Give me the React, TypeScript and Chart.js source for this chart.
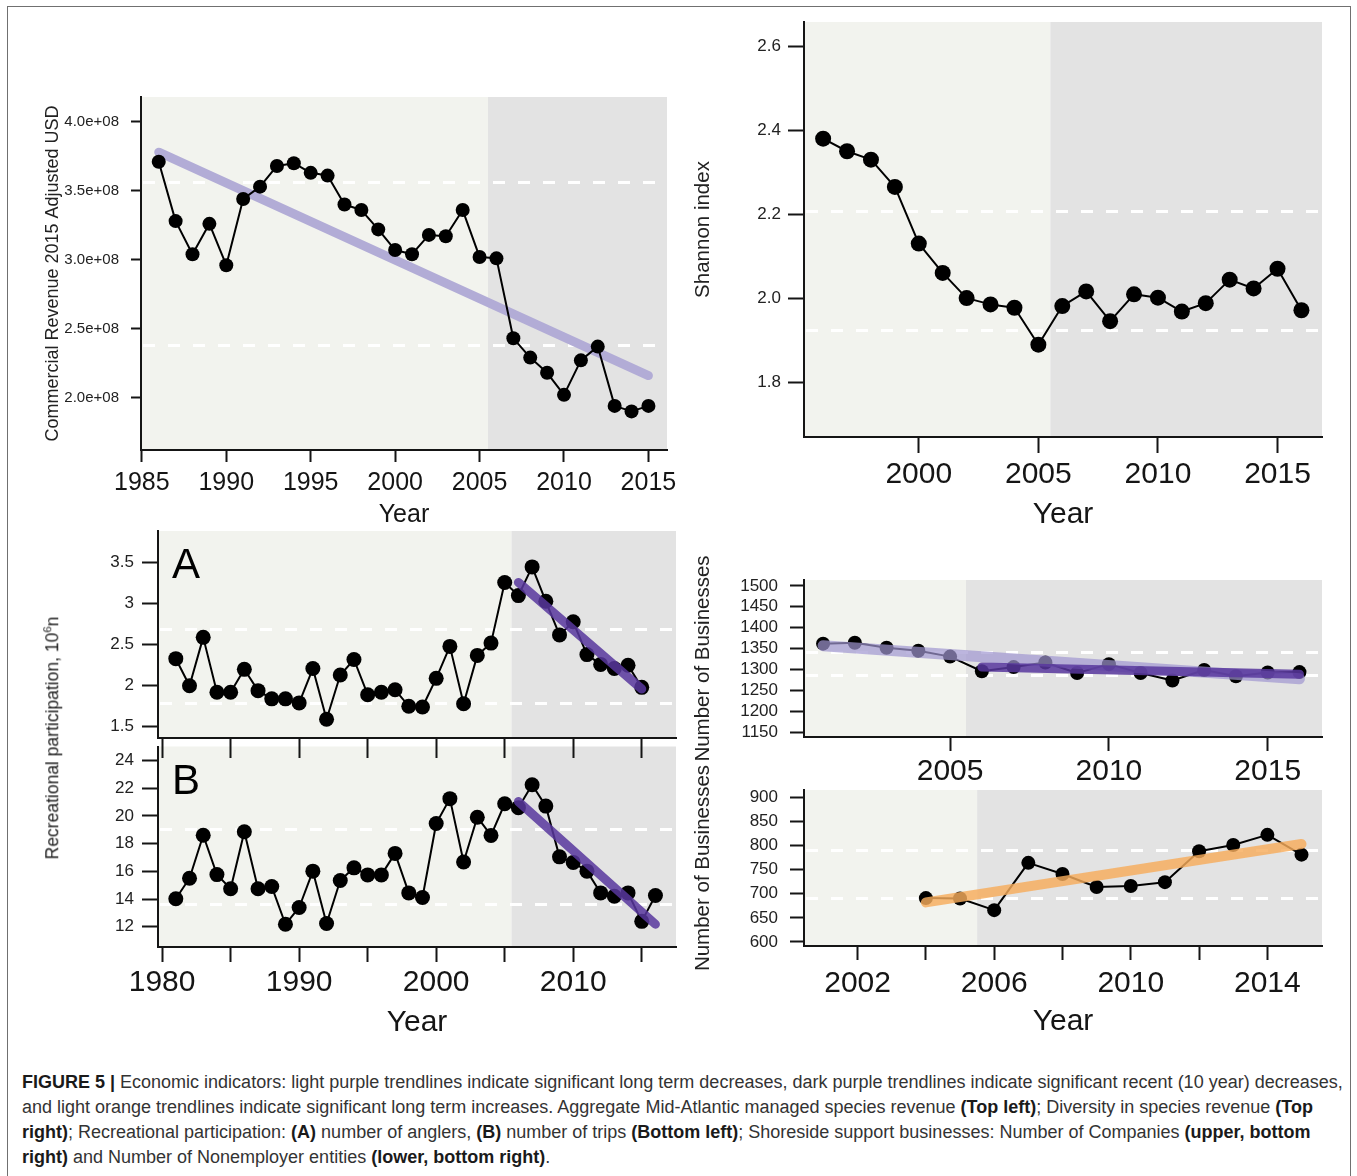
import { useEffect, useRef } from 'react';
import { Chart, registerables } from 'chart.js';

Chart.register(...registerables);

const FONT = '"Liberation Sans", Arial, Helvetica, sans-serif';
const LIGHT_BG = '#f2f3ee';
const DARK_BG = '#e3e3e3';
const INK = '#151515';
const DARK_PURPLE = 'rgba(88, 55, 158, 0.85)';
const LIGHT_ORANGE = 'rgba(246, 172, 92, 0.82)';

const recentPeriodStart = 2005.5;

// ---- Top left: aggregate commercial revenue (2015 adjusted USD) ----
const revenueYears = [1986, 1987, 1988, 1989, 1990, 1991, 1992, 1993, 1994, 1995, 1996, 1997, 1998, 1999, 2000, 2001, 2002, 2003, 2004, 2005, 2006, 2007, 2008, 2009, 2010, 2011, 2012, 2013, 2014, 2015];
const revenueUSD = [3.71e8, 3.28e8, 3.04e8, 3.26e8, 2.96e8, 3.44e8, 3.53e8, 3.68e8, 3.70e8, 3.63e8, 3.61e8, 3.40e8, 3.36e8, 3.22e8, 3.07e8, 3.04e8, 3.18e8, 3.17e8, 3.36e8, 3.02e8, 3.01e8, 2.43e8, 2.29e8, 2.18e8, 2.02e8, 2.27e8, 2.37e8, 1.94e8, 1.90e8, 1.94e8];
const revenueTrendYears = [1986, 2015];
const revenueTrend = [3.78e8, 2.16e8];
const revenueThresholds = [3.56e8, 2.38e8];
const revenueYTicks = [2.0e8, 2.5e8, 3.0e8, 3.5e8, 4.0e8];
const revenueXTicks = [1985, 1990, 1995, 2000, 2005, 2010, 2015];

// ---- Top right: Shannon diversity of species revenue ----
const shannonYears = [1996, 1997, 1998, 1999, 2000, 2001, 2002, 2003, 2004, 2005, 2006, 2007, 2008, 2009, 2010, 2011, 2012, 2013, 2014, 2015, 2016];
const shannonIndex = [2.38, 2.35, 2.33, 2.265, 2.13, 2.06, 2.0, 1.985, 1.977, 1.889, 1.981, 2.016, 1.945, 2.009, 2.001, 1.968, 1.988, 2.044, 2.023, 2.07, 1.971];
const shannonThresholds = [2.208, 1.925];
const shannonYTicks = [1.8, 2.0, 2.2, 2.4, 2.6];
const shannonXTicks = [2000, 2005, 2010, 2015];

// ---- Bottom left A: number of anglers (10^6) ----
const anglerYears = [1981, 1982, 1983, 1984, 1985, 1986, 1987, 1988, 1989, 1990, 1991, 1992, 1993, 1994, 1995, 1996, 1997, 1998, 1999, 2000, 2001, 2002, 2003, 2004, 2005, 2006, 2007, 2008, 2009, 2010, 2011, 2012, 2013, 2014, 2015];
const anglers = [2.33, 2.0, 2.59, 1.92, 1.92, 2.2, 1.94, 1.84, 1.84, 1.79, 2.21, 1.59, 2.13, 2.32, 1.89, 1.92, 1.95, 1.75, 1.74, 2.09, 2.48, 1.78, 2.37, 2.52, 3.26, 3.10, 3.45, 3.03, 2.62, 2.78, 2.38, 2.26, 2.21, 2.25, 1.98];
const anglerTrendYears = [2006, 2015];
const anglerTrend = [3.26, 1.96];
const anglerThresholds = [2.69, 1.79];
const anglerYTicks = [1.5, 2, 2.5, 3, 3.5];

// ---- Bottom left B: number of trips (10^6) ----
const tripYears = [1981, 1982, 1983, 1984, 1985, 1986, 1987, 1988, 1989, 1990, 1991, 1992, 1993, 1994, 1995, 1996, 1997, 1998, 1999, 2000, 2001, 2002, 2003, 2004, 2005, 2006, 2007, 2008, 2009, 2010, 2011, 2012, 2013, 2014, 2015, 2016];
const trips = [14.02, 15.5, 18.6, 15.76, 14.74, 18.85, 14.74, 14.9, 12.18, 13.39, 16.01, 12.23, 15.34, 16.25, 15.74, 15.74, 17.29, 14.44, 14.11, 19.45, 21.24, 16.67, 19.9, 18.59, 20.87, 20.59, 22.24, 20.7, 17.04, 16.64, 16.01, 14.44, 14.2, 14.44, 12.39, 14.25];
const tripTrendYears = [2006, 2016];
const tripTrend = [21.03, 12.18];
const tripThresholds = [19.08, 13.67];
const tripYTicks = [12, 14, 16, 18, 20, 22, 24];
const recXTicks = [1980, 1985, 1990, 1995, 2000, 2005, 2010, 2015];
const recXLabels = [1980, 1990, 2000, 2010];

// ---- Bottom right upper: number of companies ----
const companyYears = [2001, 2002, 2003, 2004, 2005, 2006, 2007, 2008, 2009, 2010, 2011, 2012, 2013, 2014, 2015, 2016];
const companies = [1362, 1364, 1352, 1345, 1331, 1296, 1306, 1317, 1292, 1313, 1292, 1274, 1299, 1284, 1293, 1294];
const companyLongTrendYears = [2001, 2016];
const companyLongTrend = [1357, 1278];
const companyRecentTrendYears = [2006, 2016];
const companyRecentTrend = [1306, 1289];
const companyThresholds = [1342, 1286];
const companyYTicks = [1150, 1200, 1250, 1300, 1350, 1400, 1450, 1500];
const companyXTicks = [2005, 2010, 2015];

// ---- Bottom right lower: number of nonemployer entities ----
const nonemployerYears = [2004, 2005, 2006, 2007, 2008, 2009, 2010, 2011, 2012, 2013, 2014, 2015];
const nonemployers = [691, 690, 666, 764, 741, 714, 716, 724, 788, 801, 822, 781];
const nonemployerTrendYears = [2004, 2015];
const nonemployerTrend = [682, 803];
const nonemployerThresholds = [790.5, 692];
const nonemployerYTicks = [600, 650, 700, 750, 800, 850, 900];
const nonemployerXTicks = [2002, 2004, 2006, 2008, 2010, 2012, 2014];
const nonemployerXLabels = [2002, 2006, 2010, 2014];

const captionLines: [string, boolean][][] = [
  [["FIGURE 5 |", true], [" Economic indicators: light purple trendlines indicate significant long term decreases, dark purple trendlines indicate significant recent (10 year) decreases,", false]],
  [["and light orange trendlines indicate significant long term increases. Aggregate Mid-Atlantic managed species revenue ", false], ["(Top left)", true], ["; Diversity in species revenue ", false], ["(Top", true]],
  [["right)", true], ["; Recreational participation: ", false], ["(A)", true], [" number of anglers, ", false], ["(B)", true], [" number of trips ", false], ["(Bottom left)", true], ["; Shoreside support businesses: Number of Companies ", false], ["(upper, bottom", true]],
  [["right)", true], [" and Number of Nonemployer entities ", false], ["(lower, bottom right)", true], [".", false]],
];

const decorPlugin = {
  id: 'panelDecor',
  beforeDraw(chart: any, _args: any, opts: any) {
    const { ctx, chartArea: a, scales } = chart;
    const xs = Math.max(a.left, Math.min(a.right, scales.x.getPixelForValue(opts.shadeFrom)));
    ctx.save();
    ctx.fillStyle = LIGHT_BG;
    ctx.fillRect(a.left, a.top, xs - a.left, a.bottom - a.top);
    ctx.fillStyle = DARK_BG;
    ctx.fillRect(xs, a.top, a.right - xs, a.bottom - a.top);
    ctx.restore();
  },
  beforeDatasetsDraw(chart: any, _args: any, opts: any) {
    const { ctx, chartArea: a, scales } = chart;
    ctx.save();
    ctx.strokeStyle = '#ffffff';
    ctx.lineWidth = 3;
    ctx.setLineDash([12, 13]);
    (opts.thresholds || []).forEach((t: number) => {
      const y = Math.round(scales.y.getPixelForValue(t)) + 0.5;
      ctx.beginPath();
      ctx.moveTo(a.left + 2, y);
      ctx.lineTo(a.right, y);
      ctx.stroke();
    });
    ctx.setLineDash([]);
    if (opts.label) {
      ctx.fillStyle = '#000';
      ctx.font = `42px ${FONT}`;
      ctx.textBaseline = 'alphabetic';
      ctx.textAlign = 'left';
      ctx.fillText(opts.label, a.left + 14, a.top + 47);
    }
    ctx.restore();
  },
};

type Series = { xs: number[]; ys: number[]; color: string; width: number; radius?: number; order: number };

type PanelProps = {
  plot: [number, number, number, number];
  yW: number; xH: number; padT: number; padR: number;
  xMin: number; xMax: number; yMin: number; yMax: number;
  xTicks: number[]; xLabel: (v: number) => string;
  yTicks: number[]; yLabel: (v: number) => string;
  xTickLen: number; xPad: number; xFont: number; xTitle?: string; xTitleFont?: number;
  yTickLen: number; yPad: number; yFont: number; yTitle?: string; yTitleFont?: number;
  thresholds: number[]; label?: string; series: Series[]; z?: number;
};

function Panel(p: PanelProps) {
  const ref = useRef<HTMLCanvasElement>(null);
  const [L, T, R, B] = p.plot;
  const w = R - L + p.yW + p.padR;
  const h = B - T + p.padT + p.xH;
  useEffect(() => {
    if (!ref.current) return;
    const datasets = p.series.map((s) => ({
      type: 'line' as const,
      data: s.xs.map((x, i) => ({ x, y: s.ys[i] })),
      borderColor: s.color,
      backgroundColor: s.color,
      borderWidth: s.width,
      borderCapStyle: 'round' as const,
      borderJoinStyle: 'round' as const,
      pointRadius: s.radius ?? 0,
      pointHoverRadius: s.radius ?? 0,
      pointBackgroundColor: s.color,
      pointBorderWidth: 0,
      tension: 0,
      order: s.order,
      clip: false as any,
    }));
    const chart = new Chart(ref.current, {
      type: 'line',
      data: { datasets } as any,
      options: {
        responsive: false,
        animation: false,
        devicePixelRatio: 1,
        events: [],
        layout: { padding: { left: 0, top: p.padT, right: p.padR, bottom: 0 } },
        plugins: {
          legend: { display: false },
          tooltip: { enabled: false },
          panelDecor: { shadeFrom: recentPeriodStart, thresholds: p.thresholds, label: p.label },
        } as any,
        scales: {
          x: {
            type: 'linear',
            position: 'bottom',
            min: p.xMin,
            max: p.xMax,
            bounds: 'data',
            afterBuildTicks: (s: any) => { s.ticks = p.xTicks.map((v) => ({ value: v })); },
            afterFit: (s: any) => { s.height = p.xH; s.paddingLeft = 0; s.paddingRight = 0; },
            grid: { display: true, drawOnChartArea: false, drawTicks: true, tickLength: p.xTickLen, tickWidth: 2, tickColor: INK },
            border: { display: true, color: INK, width: 2 },
            ticks: { padding: p.xPad, color: INK, autoSkip: false, maxRotation: 0, minRotation: 0, font: { family: FONT, size: p.xFont }, callback: (v: any) => p.xLabel(Number(v)) },
            title: p.xTitle ? { display: true, text: p.xTitle, color: INK, padding: 0, font: { family: FONT, size: p.xTitleFont } } : { display: false },
          },
          y: {
            type: 'linear',
            position: 'left',
            min: p.yMin,
            max: p.yMax,
            bounds: 'data',
            afterBuildTicks: (s: any) => { s.ticks = p.yTicks.map((v) => ({ value: v })); },
            afterFit: (s: any) => { s.width = p.yW; s.paddingTop = 0; s.paddingBottom = 0; },
            grid: { display: true, drawOnChartArea: false, drawTicks: true, tickLength: p.yTickLen, tickWidth: 2, tickColor: INK },
            border: { display: true, color: INK, width: 2 },
            ticks: { padding: p.yPad, color: '#222', autoSkip: false, font: { family: FONT, size: p.yFont }, callback: (v: any) => p.yLabel(Number(v)) },
            title: p.yTitle ? { display: true, text: p.yTitle, color: '#222', padding: 0, font: { family: FONT, size: p.yTitleFont } } : { display: false },
          },
        } as any,
      },
      plugins: [decorPlugin as any],
    });
    return () => chart.destroy();
  }, []);
  return (
    <canvas
      ref={ref}
      width={w}
      height={h}
      style={{ position: 'absolute', left: L - p.yW, top: T - p.padT, width: w, height: h, zIndex: p.z ?? 1 }}
    />
  );
}

const dataSeries = (xs: number[], ys: number[], radius: number, order: number): Series => ({ xs, ys, color: '#000', width: 2, radius, order });

export default function App() {
  return (
    <div style={{ position: 'absolute', left: 0, top: 0, width: 1357, height: 1176, overflow: 'hidden', background: '#fff', fontFamily: FONT }}>
      <div style={{ position: 'absolute', left: 7, top: 6, width: 1344, height: 1200, border: '1px solid #707070', boxSizing: 'border-box' }} />

      {/* Top left */}
      <Panel
        plot={[141, 97, 667, 450]} yW={99} xH={80} padT={12} padR={30}
        xMin={1984.95} xMax={2016.1} yMin={1.62e8} yMax={4.18e8}
        xTicks={revenueXTicks} xLabel={(v) => String(v)}
        yTicks={revenueYTicks} yLabel={(v) => (v / 1e8).toFixed(1) + 'e+08'}
        xTickLen={12} xPad={6} xFont={25} xTitle="Year" xTitleFont={25}
        yTickLen={10} yPad={12} yFont={15} yTitle="Commercial Revenue 2015 Adjusted USD" yTitleFont={18}
        thresholds={revenueThresholds}
        series={[
          { xs: revenueTrendYears, ys: revenueTrend, color: '#b2acd6', width: 9, order: 2 },
          dataSeries(revenueYears, revenueUSD, 7, 1),
        ]}
      />

      {/* Top right */}
      <Panel
        plot={[804, 22, 1322, 437]} yW={113} xH={96} padT={12} padR={30}
        xMin={1995.2} xMax={2016.86} yMin={1.669} yMax={2.658}
        xTicks={shannonXTicks} xLabel={(v) => String(v)}
        yTicks={shannonYTicks} yLabel={(v) => v.toFixed(1)}
        xTickLen={16} xPad={4} xFont={30} xTitle="Year" xTitleFont={30}
        yTickLen={16} yPad={7} yFont={17} yTitle="Shannon index" yTitleFont={20.5}
        thresholds={shannonThresholds}
        series={[dataSeries(shannonYears, shannonIndex, 8, 1)]}
      />

      {/* Bottom left B */}
      <Panel
        plot={[158, 739, 676, 947]} yW={100} xH={94} padT={0} padR={30}
        xMin={1979.7} xMax={2017.5} yMin={10.54} yMax={25.0}
        xTicks={recXTicks} xLabel={(v) => (recXLabels.includes(v) ? String(v) : '')}
        yTicks={tripYTicks} yLabel={(v) => String(v)}
        xTickLen={15} xPad={3} xFont={30} xTitle="Year" xTitleFont={30}
        yTickLen={16} yPad={8} yFont={17}
        thresholds={tripThresholds} label="B"
        series={[
          { xs: tripTrendYears, ys: tripTrend, color: DARK_PURPLE, width: 9, order: 0 },
          dataSeries(tripYears, trips, 7.5, 1),
        ]}
      />

      {/* Bottom left A */}
      <Panel
        plot={[158, 531, 676, 738]} yW={100} xH={24} padT={12} padR={30} z={2}
        xMin={1979.7} xMax={2017.5} yMin={1.362} yMax={3.888}
        xTicks={recXTicks} xLabel={() => ''}
        yTicks={anglerYTicks} yLabel={(v) => String(v)}
        xTickLen={20} xPad={0} xFont={10}
        yTickLen={16} yPad={8} yFont={17}
        thresholds={anglerThresholds} label="A"
        series={[
          { xs: anglerTrendYears, ys: anglerTrend, color: DARK_PURPLE, width: 9, order: 0 },
          dataSeries(anglerYears, anglers, 7.5, 1),
        ]}
      />

      <div
        style={{
          position: 'absolute', left: 53, top: 738, transform: 'translate(-50%, -50%) rotate(-90deg)',
          whiteSpace: 'nowrap', fontSize: 17.5, lineHeight: 1, color: '#222', fontFamily: FONT, zIndex: 3,
        }}
      >
        Recreational participation, 10<sup style={{ fontSize: 11.5, verticalAlign: 'super', lineHeight: 0 }}>6</sup>n
      </div>

      {/* Bottom right upper */}
      <Panel
        plot={[804, 580, 1322, 737]} yW={113} xH={60} padT={32} padR={30}
        xMin={2000.4} xMax={2016.71} yMin={1139} yMax={1514}
        xTicks={companyXTicks} xLabel={(v) => String(v)}
        yTicks={companyYTicks} yLabel={(v) => String(v)}
        xTickLen={14} xPad={3} xFont={30}
        yTickLen={14} yPad={12} yFont={17} yTitle="Number of Businesses" yTitleFont={20.5}
        thresholds={companyThresholds}
        series={[
          { xs: companyRecentTrendYears, ys: companyRecentTrend, color: DARK_PURPLE, width: 9, order: 0 },
          { xs: companyLongTrendYears, ys: companyLongTrend, color: 'rgba(160, 150, 208, 0.7)', width: 11, order: 0.5 },
          dataSeries(companyYears, companies, 7, 1),
        ]}
      />

      {/* Bottom right lower */}
      <Panel
        plot={[804, 790, 1322, 946]} yW={113} xH={94} padT={32} padR={30}
        xMin={2000.43} xMax={2015.6} yMin={591.7} yMax={915}
        xTicks={nonemployerXTicks} xLabel={(v) => (nonemployerXLabels.includes(v) ? String(v) : '')}
        yTicks={nonemployerYTicks} yLabel={(v) => String(v)}
        xTickLen={14} xPad={6} xFont={30} xTitle="Year" xTitleFont={30}
        yTickLen={14} yPad={12} yFont={17} yTitle="Number of Businesses" yTitleFont={20.5}
        thresholds={nonemployerThresholds}
        series={[
          { xs: nonemployerTrendYears, ys: nonemployerTrend, color: LIGHT_ORANGE, width: 10, order: 0 },
          dataSeries(nonemployerYears, nonemployers, 7, 1),
        ]}
      />

      {/* Caption */}
      {captionLines.map((line, i) => (
        <div
          key={i}
          style={{
            position: 'absolute', left: 22, top: 1082 + i * 25 - 11, height: 22, lineHeight: '22px',
            whiteSpace: 'nowrap', fontSize: 18, color: '#333', fontFamily: FONT,
          }}
        >
          {line.map(([txt, bold], j) => (
            <span key={j} style={{ fontWeight: bold ? 700 : 400, color: bold ? '#1a1a1a' : '#333' }}>{txt}</span>
          ))}
        </div>
      ))}
    </div>
  );
}
